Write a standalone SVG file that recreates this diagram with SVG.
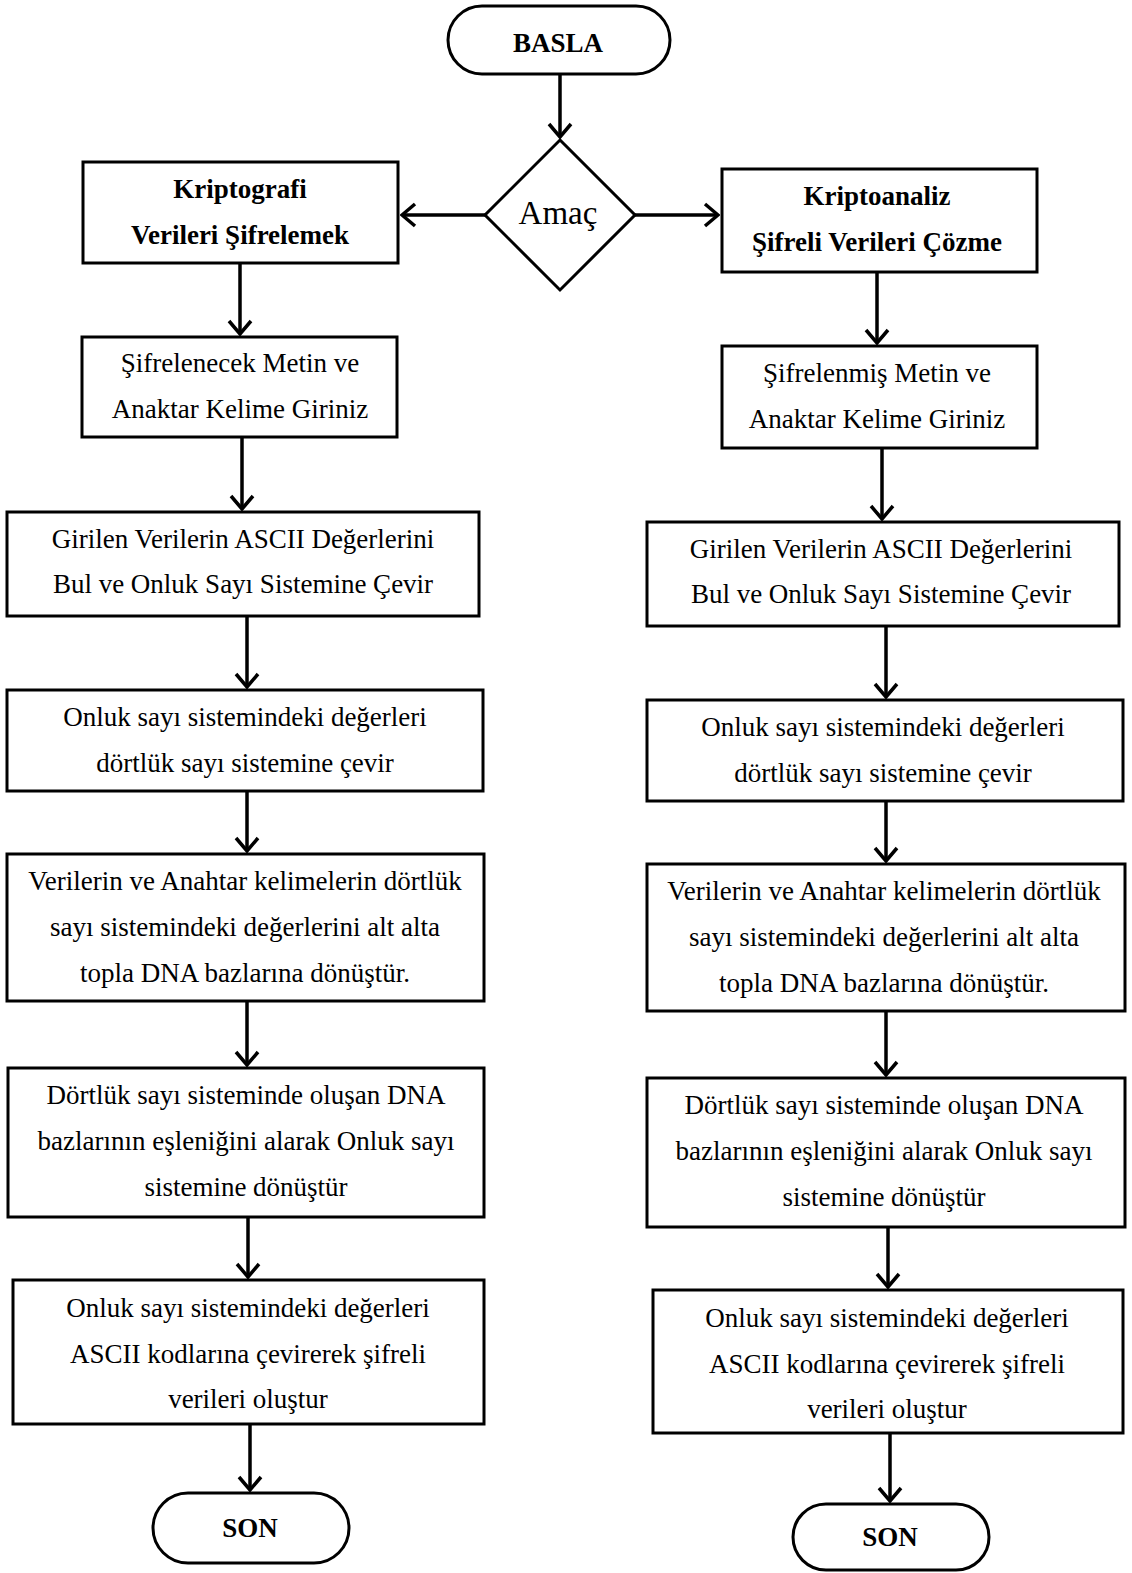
<svg xmlns="http://www.w3.org/2000/svg" width="1132" height="1573" viewBox="0 0 1132 1573">
<style>
.box{fill:#fff;stroke:#000;stroke-width:3}
.t{font-family:"Liberation Serif","Times New Roman",serif;font-size:27px;fill:#000;text-anchor:middle}
.b{font-weight:bold;font-size:27px}
.c{fill:none;stroke:#000;stroke-width:3.5}
</style>
<defs>
<marker id="ah" markerUnits="userSpaceOnUse" viewBox="-16 -14 18 28" refX="0" refY="0" markerWidth="18" markerHeight="28" orient="auto">
<path d="M-13,-11 L0,0 L-13,11" fill="none" stroke="#000" stroke-width="3.5" stroke-linejoin="miter"/>
</marker>
</defs>
<rect width="1132" height="1573" fill="#fff"/>
<g id="connectors" class="c" marker-end="url(#ah)">
<line x1="560" y1="74" x2="560" y2="137"/>
<line x1="485" y1="215" x2="402" y2="215"/>
<line x1="635" y1="215" x2="718" y2="215"/>
<line x1="240" y1="263" x2="240" y2="334"/>
<line x1="242" y1="437" x2="242" y2="509"/>
<line x1="247" y1="616" x2="247" y2="687"/>
<line x1="247" y1="791" x2="247" y2="851"/>
<line x1="247" y1="1001" x2="247" y2="1065"/>
<line x1="248" y1="1217" x2="248" y2="1277"/>
<line x1="250" y1="1424" x2="250" y2="1490"/>
<line x1="877" y1="272" x2="877" y2="343"/>
<line x1="882" y1="448" x2="882" y2="519"/>
<line x1="886" y1="626" x2="886" y2="697"/>
<line x1="886" y1="801" x2="886" y2="861"/>
<line x1="886" y1="1011" x2="886" y2="1075"/>
<line x1="888" y1="1227" x2="888" y2="1287"/>
<line x1="890" y1="1433" x2="890" y2="1501"/>
</g>
<g id="start"><rect class="box" x="448" y="6" width="222" height="68" rx="34"/><text class="t b" x="558" y="52">BASLA</text></g>
<g id="decision"><polygon class="box" points="560,140 635,215 560,290 485,215"/><text class="t" style="font-size:33px" x="558" y="224">Amaç</text></g>
<g id="l1"><rect class="box" x="83" y="162" width="315" height="101"/><text class="t b" x="240" y="198">Kriptografi</text><text class="t b" x="240" y="244">Verileri Şifrelemek</text></g>
<g id="l2"><rect class="box" x="82" y="337" width="315" height="100"/><text class="t" x="240" y="372">Şifrelenecek Metin ve</text><text class="t" x="240" y="418">Anaktar Kelime Giriniz</text></g>
<g id="l3"><rect class="box" x="7" y="512" width="472" height="104"/><text class="t" x="243" y="548">Girilen Verilerin ASCII Değerlerini</text><text class="t" x="243" y="593">Bul ve Onluk Sayı Sistemine Çevir</text></g>
<g id="l4"><rect class="box" x="7" y="690" width="476" height="101"/><text class="t" x="245" y="726">Onluk sayı sistemindeki değerleri</text><text class="t" x="245" y="772">dörtlük sayı sistemine çevir</text></g>
<g id="l5"><rect class="box" x="7" y="854" width="477" height="147"/><text class="t" x="245" y="890">Verilerin ve Anahtar kelimelerin dörtlük</text><text class="t" x="245" y="936">sayı sistemindeki değerlerini alt alta</text><text class="t" x="245" y="982">topla DNA bazlarına dönüştür.</text></g>
<g id="l6"><rect class="box" x="8" y="1068" width="476" height="149"/><text class="t" x="246" y="1104">Dörtlük sayı sisteminde oluşan DNA</text><text class="t" x="246" y="1150">bazlarının eşleniğini alarak Onluk sayı</text><text class="t" x="246" y="1196">sistemine dönüştür</text></g>
<g id="l7"><rect class="box" x="13" y="1280" width="471" height="144"/><text class="t" x="248" y="1317">Onluk sayı sistemindeki değerleri</text><text class="t" x="248" y="1363">ASCII kodlarına çevirerek şifreli</text><text class="t" x="248" y="1408">verileri oluştur</text></g>
<g id="l8"><rect class="box" x="153" y="1493" width="196" height="70" rx="35"/><text class="t b" x="250" y="1537">SON</text></g>
<g id="r1"><rect class="box" x="722" y="169" width="315" height="103"/><text class="t b" x="877" y="205">Kriptoanaliz</text><text class="t b" x="877" y="251">Şifreli Verileri Çözme</text></g>
<g id="r2"><rect class="box" x="722" y="346" width="315" height="102"/><text class="t" x="877" y="382">Şifrelenmiş Metin ve</text><text class="t" x="877" y="428">Anaktar Kelime Giriniz</text></g>
<g id="r3"><rect class="box" x="647" y="522" width="472" height="104"/><text class="t" x="881" y="558">Girilen Verilerin ASCII Değerlerini</text><text class="t" x="881" y="603">Bul ve Onluk Sayı Sistemine Çevir</text></g>
<g id="r4"><rect class="box" x="647" y="700" width="476" height="101"/><text class="t" x="883" y="736">Onluk sayı sistemindeki değerleri</text><text class="t" x="883" y="782">dörtlük sayı sistemine çevir</text></g>
<g id="r5"><rect class="box" x="647" y="864" width="478" height="147"/><text class="t" x="884" y="900">Verilerin ve Anahtar kelimelerin dörtlük</text><text class="t" x="884" y="946">sayı sistemindeki değerlerini alt alta</text><text class="t" x="884" y="992">topla DNA bazlarına dönüştür.</text></g>
<g id="r6"><rect class="box" x="647" y="1078" width="478" height="149"/><text class="t" x="884" y="1114">Dörtlük sayı sisteminde oluşan DNA</text><text class="t" x="884" y="1160">bazlarının eşleniğini alarak Onluk sayı</text><text class="t" x="884" y="1206">sistemine dönüştür</text></g>
<g id="r7"><rect class="box" x="653" y="1290" width="470" height="143"/><text class="t" x="887" y="1327">Onluk sayı sistemindeki değerleri</text><text class="t" x="887" y="1373">ASCII kodlarına çevirerek şifreli</text><text class="t" x="887" y="1418">verileri oluştur</text></g>
<g id="r8"><rect class="box" x="793" y="1504" width="196" height="66" rx="33"/><text class="t b" x="890" y="1546">SON</text></g>
</svg>
